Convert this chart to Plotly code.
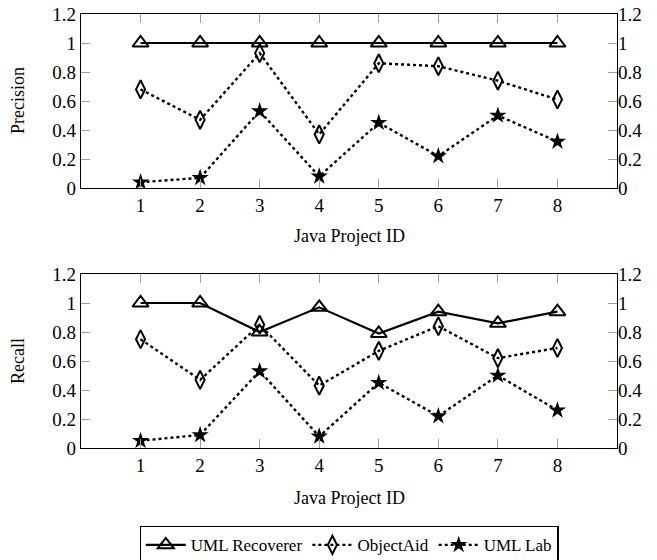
import plotly.graph_objects as go

project_ids = [1, 2, 3, 4, 5, 6, 7, 8]
series_names = ["UML Recoverer", "ObjectAid", "UML Lab"]

precision_uml_recoverer = [1.0, 1.0, 1.0, 1.0, 1.0, 1.0, 1.0, 1.0]
precision_objectaid = [0.68, 0.47, 0.93, 0.37, 0.86, 0.84, 0.74, 0.61]
precision_uml_lab = [0.04, 0.07, 0.53, 0.08, 0.45, 0.22, 0.50, 0.32]

recall_uml_recoverer = [1.0, 1.0, 0.80, 0.97, 0.79, 0.94, 0.86, 0.94]
recall_objectaid = [0.75, 0.47, 0.85, 0.43, 0.67, 0.84, 0.62, 0.69]
recall_uml_lab = [0.05, 0.09, 0.53, 0.08, 0.45, 0.22, 0.50, 0.26]

y_ticks = [0, 0.2, 0.4, 0.6, 0.8, 1.0, 1.2]
y_tick_labels = ["0", "0.2", "0.4", "0.6", "0.8", "1", "1.2"]

FONT = "Liberation Serif"
styles = [
    dict(line=dict(color="black", width=2.2, dash="solid"),
         marker=dict(symbol="triangle-up-open", size=14, color="black", line=dict(width=2))),
    dict(line=dict(color="black", width=2.4, dash="dot"),
         marker=dict(symbol="diamond-tall-open", size=13, color="black", line=dict(width=2))),
    dict(line=dict(color="black", width=2.4, dash="dot"),
         marker=dict(symbol="star", size=13, color="black", line=dict(width=0))),
]

fig = go.Figure()
panels = [
    ("x", "y", [precision_uml_recoverer, precision_objectaid, precision_uml_lab], True),
    ("x2", "y2", [recall_uml_recoverer, recall_objectaid, recall_uml_lab], False),
]
for xa, ya, data, show in panels:
    for name, vals, st in zip(series_names, data, styles):
        fig.add_trace(go.Scatter(x=project_ids, y=vals, name=name, mode="lines+markers",
                                 xaxis=xa, yaxis=ya, showlegend=show,
                                 line=st["line"], marker=st["marker"]))

# invisible traces for right-side label axes
fig.add_trace(go.Scatter(x=[None], y=[None], xaxis="x", yaxis="y3", showlegend=False, hoverinfo="skip"))
fig.add_trace(go.Scatter(x=[None], y=[None], xaxis="x2", yaxis="y4", showlegend=False, hoverinfo="skip"))

tick_font = dict(family=FONT, size=19, color="black")
common_x = dict(range=[0, 9], tickvals=project_ids, ticktext=[str(p) for p in project_ids],
                ticks="inside", ticklen=9, tickcolor="#a0a0a0", tickwidth=1,
                showline=True, linecolor="black", linewidth=1.3, mirror="ticks",
                showgrid=False, zeroline=False, tickfont=tick_font, automargin=False,
                ticklabeloverflow="allow")
common_y = dict(range=[0, 1.2], tickvals=y_ticks, ticktext=y_tick_labels,
                ticks="inside", ticklen=9, tickcolor="#a0a0a0", tickwidth=1,
                showline=True, linecolor="black", linewidth=1.3, mirror="ticks",
                showgrid=False, zeroline=False, tickfont=tick_font, automargin=False,
                ticklabeloverflow="allow")
right_y = dict(range=[0, 1.2], tickvals=y_ticks, ticktext=y_tick_labels, side="right",
               ticks="", showline=False, showgrid=False, zeroline=False, tickfont=tick_font,
               automargin=False, ticklabeloverflow="allow")

PH = 434
top_dom = [(448 - 188) / PH, 1.0]
bot_dom = [0.0, (448 - 274) / PH]
plot_w = 657 - 81 - 40

fig.update_layout(
    width=657, height=560,
    margin=dict(l=81, r=40, t=14, b=112, autoexpand=False),
    paper_bgcolor="white", plot_bgcolor="white",
    font=dict(family=FONT, size=18, color="black"),
    xaxis=dict(common_x, domain=[0, 1], anchor="y"),
    yaxis=dict(common_y, domain=top_dom, anchor="x"),
    xaxis2=dict(common_x, domain=[0, 1], anchor="y2"),
    yaxis2=dict(common_y, domain=bot_dom, anchor="x2"),
    yaxis3=dict(right_y, overlaying="y", anchor="x"),
    yaxis4=dict(right_y, overlaying="y2", anchor="x2"),
    showlegend=True,
    legend=dict(orientation="h", x=0.5, xanchor="center", y=(448 - 526) / PH, yanchor="top",
                bordercolor="black", borderwidth=1.3, font=dict(family=FONT, size=17),
                itemwidth=40, tracegroupgap=0),
)
fig.add_annotation(text="Precision", x=(18 - 81) / plot_w, xref="paper", y=(448 - 101) / PH, yref="paper",
                   textangle=-90, showarrow=False, font=dict(family=FONT, size=18),
                   xanchor="center", yanchor="middle")
fig.add_annotation(text="Recall", x=(18 - 81) / plot_w, xref="paper", y=(448 - 361) / PH, yref="paper",
                   textangle=-90, showarrow=False, font=dict(family=FONT, size=18),
                   xanchor="center", yanchor="middle")
fig.add_annotation(text="Java Project ID", x=0.5, xref="paper", y=(448 - 236) / PH, yref="paper",
                   showarrow=False, font=dict(family=FONT, size=18), xanchor="center", yanchor="middle")
fig.add_annotation(text="Java Project ID", x=0.5, xref="paper", y=(448 - 498) / PH, yref="paper",
                   showarrow=False, font=dict(family=FONT, size=18), xanchor="center", yanchor="middle")

fig.write_html("out.html", config={"displayModeBar": False},
               post_script="document.body.style.margin='0';document.body.style.overflow='hidden';")
